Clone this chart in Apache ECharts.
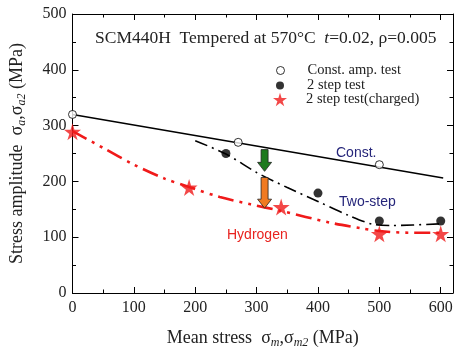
<!DOCTYPE html>
<html>
<head>
<meta charset="utf-8">
<script src="https://cdn.jsdelivr.net/npm/echarts@6/dist/echarts.min.js"></script>
<style>
html,body{margin:0;padding:0;background:#fff;}
#main{width:456px;height:354px;}
</style>
</head>
<body>
<div id="main"></div>
<script>
// data
var constX=[0,270,500];//Const. amp. test
var constY=[320,270,230];
var constLineX=[0,604];
var constLineY=[320,206];
var stepX=[250,400,500,600];//2 step test
var stepY=[250,179,129,129];
var twoStepX=[200,250,300,350,400,450,490,520,600];
var twoStepY=[273,249,216,189,164,139,123,121,124];
var chargedX=[0,190,340,500,600];//2 step test(charged)
var chargedY=[289,189,154,106,106];
var hydrogenX=[0,50,100,150,190,240,290,340,420,470,500,550,600];
var hydrogenY=[290,260,230,205,190,172,159,147,126,116,111,108,108];
var arrowX=[313,313];
var arrowTop=[257,207];
var arrowTip=[218,152];
var arrowColors=['#1e7a1e','#f07a22'];

var serif="'Liberation Serif','Times New Roman',serif";
var sans="'Liberation Sans',Arial,sans-serif";
var star='path://M50,0 L61,35 L98,35 L68,57 L79,91 L50,70 L21,91 L32,57 L2,35 L39,35 Z';

function pairs(xs,ys){
    var out=[];
    for(var i=0;i<xs.length;i++){out.push([xs[i],ys[i]]);}
    return out;
}

var nameRich={
    n:{fontFamily:serif,fontSize:18,color:'#222'},
    s:{fontFamily:serif,fontSize:12,fontStyle:'italic',color:'#222',padding:[9,0,0,0]}
};

var axisCommon={
    type:'value',
    axisLine:{show:true,onZero:false,lineStyle:{color:'#000',width:1}},
    axisTick:{show:true,inside:true,length:6,lineStyle:{color:'#000'}},
    minorTick:{show:true,splitNumber:2,length:3.5,lineStyle:{color:'#000'}},
    splitLine:{show:false}
};

function legendText(pad){
    return {fontFamily:serif,fontSize:14.5,color:'#222',padding:[0,0,0,pad]};
}

var myChart=echarts.init(document.getElementById('main'),null,{renderer:'canvas'});
var option={
    animation:false,
    backgroundColor:'#fff',
    grid:{left:71,right:2,top:14,bottom:58},
    xAxis:[
        Object.assign({},axisCommon,{
            min:0,max:620,interval:100,
            axisLabel:{margin:7,fontFamily:serif,fontSize:16,color:'#222',
                formatter:function(v){return v>600?'':v;}},
            name:'{n|Mean stress  σ}{s|m}{n|,σ}{s|m2}{n| (MPa)}',
            nameLocation:'middle',nameGap:35,
            nameTextStyle:{rich:nameRich}
        }),
        Object.assign({},axisCommon,{
            position:'top',min:0,max:620,interval:100,
            axisLabel:{show:false}
        })
    ],
    yAxis:[
        Object.assign({},axisCommon,{
            min:0,max:500,interval:100,
            axisLabel:{margin:6,fontFamily:serif,fontSize:16,color:'#222'},
            name:'{n|Stress amplitude  σ}{s|a}{n|,σ}{s|a2}{n| (MPa)}',
            nameLocation:'middle',nameGap:45,nameRotate:90,
            nameTextStyle:{rich:nameRich}
        }),
        Object.assign({},axisCommon,{
            position:'right',min:0,max:500,interval:100,
            axisLabel:{show:false}
        })
    ],
    legend:[
        {data:['Const. amp. test'],orient:'vertical',left:271,top:58,itemWidth:8,itemHeight:8,
            selectedMode:false,itemStyle:{borderWidth:1},textStyle:legendText(18)},
        {data:['2 step test'],orient:'vertical',left:271,top:73,itemWidth:8,itemHeight:8,
            selectedMode:false,textStyle:legendText(18)},
        {data:['2 step test(charged)'],orient:'vertical',left:268,top:87,itemWidth:14,itemHeight:14,
            selectedMode:false,textStyle:legendText(14)}
    ],
    graphic:[
        {type:'text',left:95,top:29,style:{
            text:'SCM440H  Tempered at 570°C  {i|t}=0.02, ρ=0.005',
            fontFamily:serif,fontSize:17.5,fill:'#222',
            rich:{i:{fontFamily:serif,fontSize:17.5,fontStyle:'italic',color:'#222'}}
        }},
        {type:'text',left:336,top:146,style:{text:'Const.',fontFamily:sans,fontSize:14,fill:'#25257a'}},
        {type:'text',left:339,top:195,style:{text:'Two-step',fontFamily:sans,fontSize:14,fill:'#25257a'}},
        {type:'text',left:227,top:228,style:{text:'Hydrogen',fontFamily:sans,fontSize:14,fill:'#e8231f'}}
    ],
    series:[
        {
            name:'Const. line',type:'line',data:pairs(constLineX,constLineY),
            showSymbol:false,lineStyle:{color:'#000',width:1.6},z:2
        },
        {
            name:'Two-step curve',type:'line',data:pairs(twoStepX,twoStepY),smooth:0.3,
            showSymbol:false,lineStyle:{color:'#000',width:1.6,type:[13,5,2,5]},z:2
        },
        {
            name:'Hydrogen curve',type:'line',data:pairs(hydrogenX,hydrogenY),smooth:0.3,
            showSymbol:false,lineStyle:{color:'#f01a1a',width:2.6,type:[16,6,3,6,3,6]},z:2
        },
        {
            name:'arrows',type:'custom',
            data:arrowX.map(function(x,i){return [x,arrowTop[i],arrowTip[i],i];}),
            renderItem:function(params,api){
                var p0=api.coord([api.value(0),api.value(1)]);
                var p1=api.coord([api.value(0),api.value(2)]);
                var cx=p0[0],sw=3.5,hw=7,hl=9;
                var neck=p1[1]-hl;
                return {
                    type:'polygon',
                    shape:{points:[[cx-sw,p0[1]],[cx+sw,p0[1]],[cx+sw,neck],[cx+hw,neck],
                        [cx,p1[1]],[cx-hw,neck],[cx-sw,neck]]},
                    style:{fill:arrowColors[api.value(3)],stroke:'#222',lineWidth:0.8}
                };
            },
            z:3
        },
        {
            name:'Const. amp. test',type:'scatter',data:pairs(constX,constY),
            symbol:'circle',symbolSize:8,
            itemStyle:{color:'#fff',borderColor:'#000',borderWidth:1},z:5
        },
        {
            name:'2 step test',type:'scatter',data:pairs(stepX,stepY),
            symbol:'circle',symbolSize:9,
            itemStyle:{color:'#000'},z:5
        },
        {
            name:'2 step test(charged)',type:'scatter',data:pairs(chargedX,chargedY),
            symbol:star,symbolSize:17,
            itemStyle:{color:'#f01a1a'},z:5
        }
    ]
};
myChart.setOption(option);
</script>
</body>
</html>
